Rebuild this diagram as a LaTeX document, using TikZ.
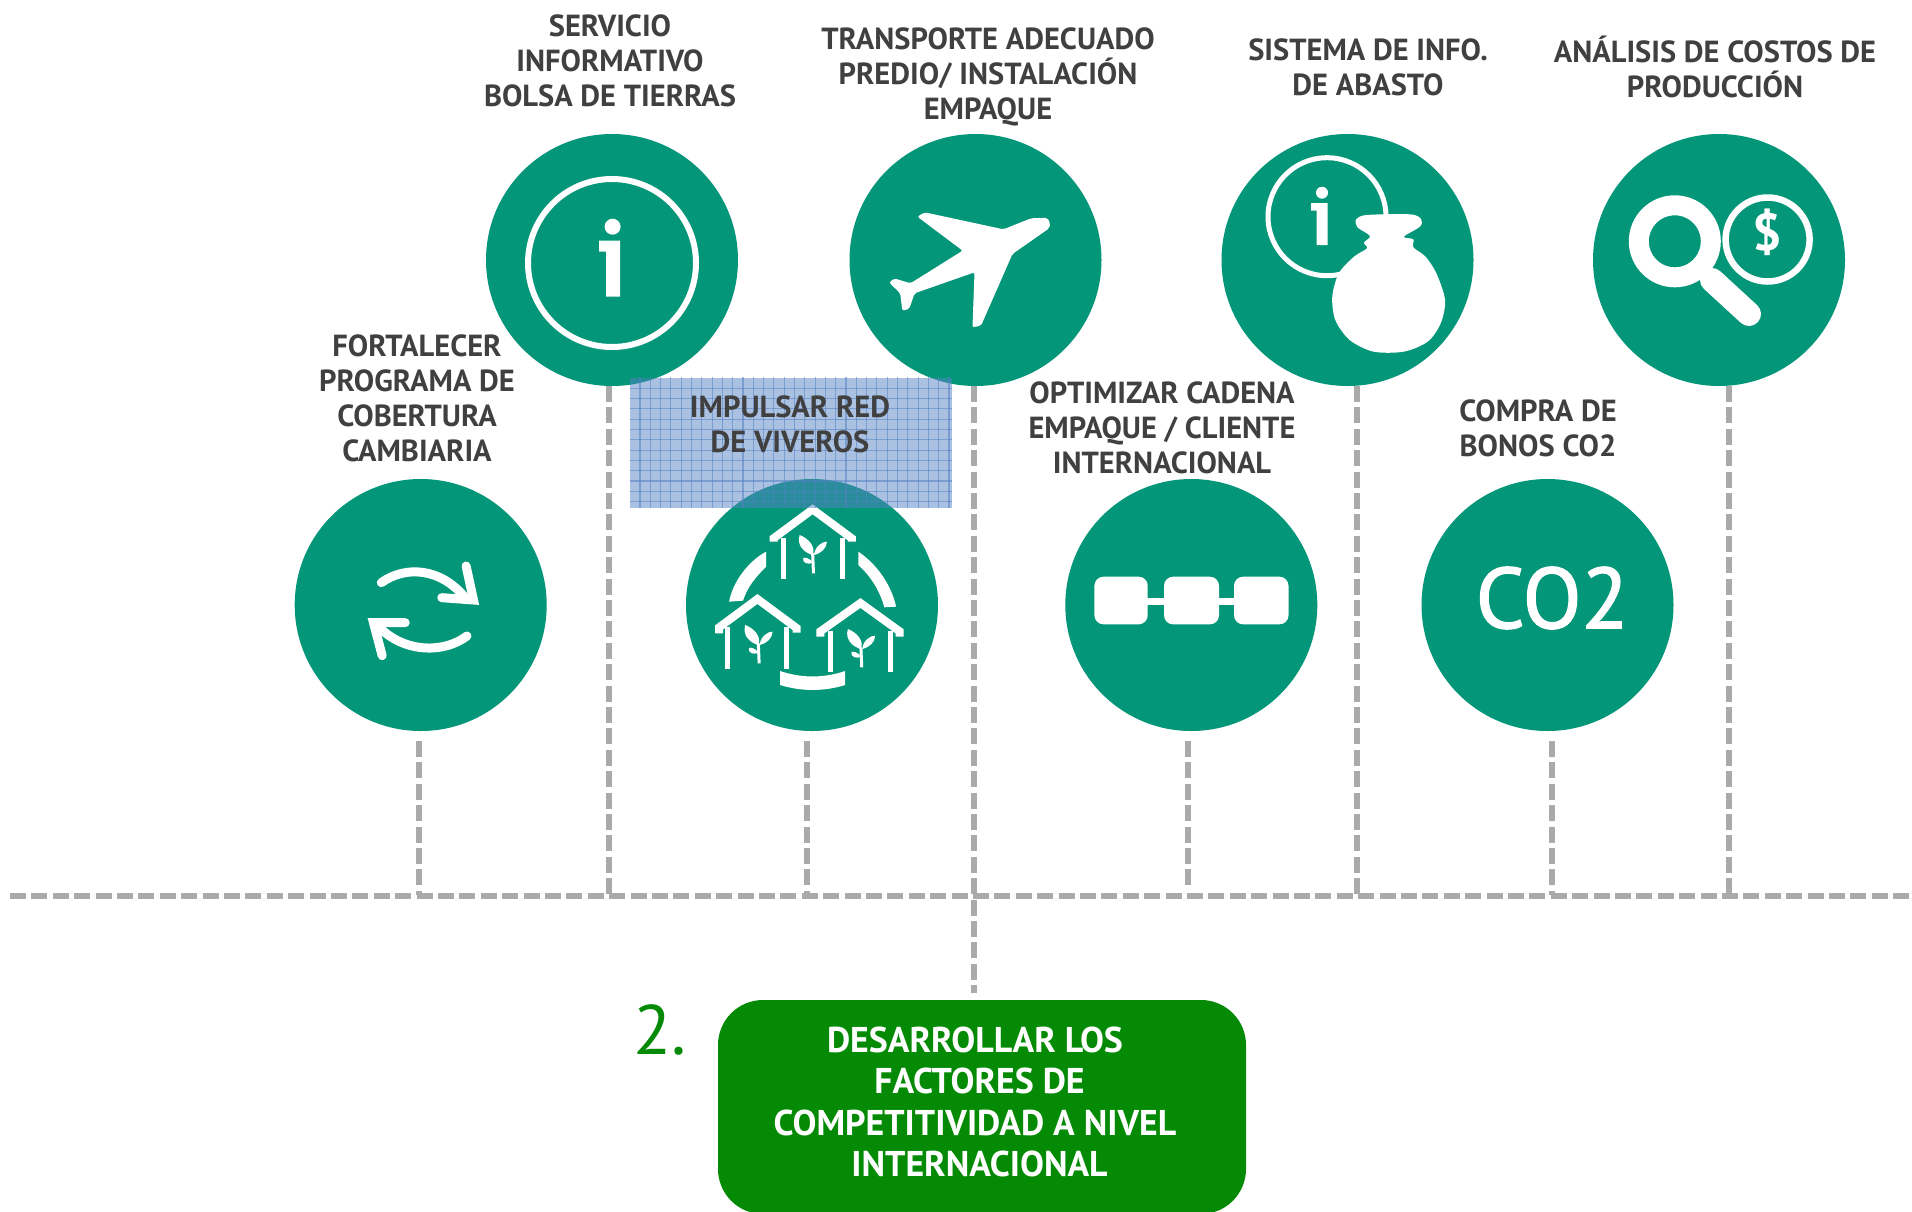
\documentclass[tikz,border=0pt]{standalone}
\usepackage{fontspec}
\setmainfont{PT Sans}
\newfontfamily\cofont[FakeBold=1.6]{PT Sans}
\definecolor{teal1}{RGB}{3,150,120}
\definecolor{gris}{RGB}{170,170,170}
\definecolor{txt}{RGB}{64,64,64}
\definecolor{verde}{RGB}{5,138,5}
\definecolor{azul}{RGB}{84,130,196}
\tikzset{
  disc/.style={circle,fill=teal1,draw=none,minimum size=252pt,inner sep=0pt},
  dashline/.style={draw=gris,line width=6pt,dash pattern=on 16pt off 5.4pt},
  lbl/.style={font=\bfseries\fontsize{30.5}{35}\selectfont,text=txt,align=center,inner sep=0pt},
  boxlbl/.style={font=\bfseries\fontsize{35.8}{41.6}\selectfont,text=white,align=center,inner sep=0pt},
  icon/.style={fill=white,draw=none},
  rooft/.style={draw=white,line width=8pt,line join=miter},
  wall/.style={draw=white,line width=5pt},
  arrowline/.style={draw=white,line width=9pt,line cap=round,line join=miter}
}
\newcommand{\plantshape}[2]{%
  \begin{scope}[shift={(#1,#2)}]
    \fill[white] (-30,-55) .. controls (-38,-20) and (-15,0) .. (0,5) .. controls (8,-20) and (-10,-45) .. (-30,-55) -- cycle;
    \fill[white] (33,-35) .. controls (22,-36) and (5,-20) .. (3,5) .. controls (20,0) and (32,-15) .. (33,-35) -- cycle;
    \draw[white,line width=3pt] (0,0) -- (2,60);
    \fill[white] (-22,15) .. controls (-20,10) and (-5,15) .. (0,28) .. controls (-8,35) and (-24,30) .. (-22,15) -- cycle;
  \end{scope}}
\begin{document}
\begin{tikzpicture}[x=1pt,y=-1pt]
\useasboundingbox (0,0) rectangle (1912,1211);
\clip (0,0) rectangle (1912,1211);
\fill[white] (0,0) rectangle (1912,1211);

% connector ends
\coordinate (h0) at (10,895.5);
\coordinate (h1) at (1912,895.5);
\coordinate (a1) at (418.5,741);  \coordinate (b1) at (418.5,895);
\coordinate (a2) at (608.5,386);  \coordinate (b2) at (608.5,895);
\coordinate (a3) at (807,741);    \coordinate (b3) at (807,895);
\coordinate (a4) at (973.5,386);  \coordinate (b4) at (973.5,993);
\coordinate (a5) at (1188,741);   \coordinate (b5) at (1188,885);
\coordinate (a6) at (1357,386);   \coordinate (b6) at (1357,895);
\coordinate (a7) at (1552,741);   \coordinate (b7) at (1552,895);
\coordinate (a8) at (1729,386);   \coordinate (b8) at (1729,895);
\draw[dashline] (h0) -- (h1);
\foreach \i in {1,...,8} \draw[dashline] (a\i) -- (b\i);

% discs
\node[disc] (c1) at (612,260) {};
\node[disc] (c2) at (975.5,260) {};
\node[disc] (c3) at (1347.5,260) {};
\node[disc] (c4) at (1719,260) {};
\node[disc] (d1) at (420.7,605) {};
\node[disc] (d2) at (812,605) {};
\node[disc] (d3) at (1191.3,605) {};
\node[disc] (d4) at (1547.5,605) {};

% info icon
\draw[white,line width=6pt] (612,263) circle (84);
\fill[white] (612.6,226.7) circle (8);
\fill[white] (606,240.7) -- (620,240.7) -- (620,296.7) -- (606,296.7) -- (606,251.7) -- (599,251.7) -- (599,240.7) -- cycle;

% plane
\begin{scope}[shift={(480,120)},x=0.408pt,y=-0.3333pt]
\fill[white,rounded corners=2pt] (1398,310) -- (1390,293) -- (1350,295) -- (1283,328) -- (1090,277) -- (1072,290) -- (1183,392) -- (1055,490) -- (1015,475) -- (1003,488) -- (1030,520) -- (1035,572) -- (1052,567) -- (1065,520) -- (1212,457) -- (1207,622) -- (1228,617) -- (1305,402) -- (1395,325) -- cycle;
\end{scope}

% info + bag
\draw[white,line width=5pt] (1327,216.7) circle (59);
\fill[white] (1322,192.7) circle (6);
\fill[white] (1316.6,203) -- (1327.5,203) -- (1327.5,245) -- (1316.6,245) -- (1316.6,210.5) -- (1311,210.5) -- (1311,203) -- cycle;
\begin{scope}[shift={(1200,120)},x=0.4337pt,y=-0.3333pt]
\fill[white] plot[smooth cycle,tension=0.5] coordinates {(360,298) (385,285) (485,283) (510,298) (507,320) (470,350) (492,358) (492,382) (520,410) (545,460) (565,540) (555,610) (525,665) (470,695) (400,695) (345,660) (312,600) (305,530) (320,460) (355,410) (385,385) (378,368) (392,348) (363,322)};
\end{scope}

% magnifier + coin
\draw[white,line width=20pt] (1674.8,241.3) circle (36);
\draw[white,line width=24pt,line cap=round] (1712,280) -- (1749,314);
\draw[white,line width=6.5pt] (1767.6,239.5) circle (42);
\node[font=\bfseries\fontsize{52}{52}\selectfont,text=white,inner sep=0pt] (coin) at (1767.6,232) {\$};

% cycle arrows
\begin{scope}[shift={(280,470)},x=0.4348pt,y=-0.3333pt]
\draw[arrowline] (233,338) .. controls (290,285) and (370,295) .. (425,382);
\draw[arrowline] (428,288) -- (445,390) -- (372,383);
\draw[arrowline] (430,498) .. controls (380,548) and (290,552) .. (228,472);
\draw[arrowline] (288,458) -- (215,458) -- (235,557);
\end{scope}

% houses
\begin{scope}[shift={(280,470)},x=0.4348pt,y=-0.3333pt]
\draw[rooft] (1135,215) -- (1135,205) -- (1225,118) -- (1315,205) -- (1315,215);
\draw[wall] (1157,205) -- (1157,327);
\draw[wall] (1293,205) -- (1293,327);
\plantshape{1225}{250}
\draw[rooft] (1010,490) -- (1010,472) -- (1098,387) -- (1188,474) -- (1188,488);
\draw[wall] (1030,470) -- (1030,596);
\draw[wall] (1166,470) -- (1166,596);
\plantshape{1100}{520}
\draw[rooft] (1243,500) -- (1243,484) -- (1335,399) -- (1425,484) -- (1425,500);
\draw[wall] (1265,484) -- (1265,605);
\draw[wall] (1405,484) -- (1405,605);
\plantshape{1336}{532}
\fill[white] (1118,245) -- (1118,290) .. controls (1095,320) and (1075,350) .. (1065,392) -- (1033,395) .. controls (1040,340) and (1075,275) .. (1118,245) -- cycle;
\fill[white] (1330,245) -- (1330,285) .. controls (1360,320) and (1380,365) .. (1390,412) -- (1417,410) .. controls (1405,340) and (1370,280) .. (1330,245) -- cycle;
\fill[white] (1150,603) .. controls (1200,625) and (1250,625) .. (1300,603) -- (1300,645) .. controls (1250,665) and (1200,665) .. (1150,645) -- cycle;
\end{scope}

% chain
\fill[white,rounded corners=9pt] (1094.4,576.7) rectangle (1147.7,624.3);
\fill[white,rounded corners=9pt] (1164,576.7) rectangle (1219,624.3);
\fill[white,rounded corners=9pt] (1234,576.7) rectangle (1288.5,624.3);
\fill[white] (1147,597.7) rectangle (1235,605);

% CO2
\node[font=\cofont\fontsize{86}{86}\selectfont,text=white,inner sep=0pt] (co2) at (1552,598) {CO2};

% patterned blue box
\begin{scope}
\clip (630,377.7) rectangle (952,507.7);
\fill[azul,fill opacity=0.49] (630,377.7) rectangle (952,507.7);
\foreach \k in {0,...,31} \draw[azul,line width=1.1pt,opacity=0.55] ({640+10.3*\k},377) -- ({640+10.3*\k},508);
\foreach \k in {0,...,12} \draw[azul,line width=1.1pt,opacity=0.55] (630,{388.3+10.3*\k}) -- (952,{388.3+10.3*\k});
\end{scope}

% labels
\node[lbl] (t1) at (610,60.5) {SERVICIO\\INFORMATIVO\\BOLSA DE TIERRAS};
\node[lbl] (t2) at (988,76.5) {TRANSPORTE ADECUADO\\PREDIO/ INSTALACIÓN\\EMPAQUE};
\node[lbl] (t3) at (1368,67) {SISTEMA DE INFO.\\DE ABASTO};
\node[lbl] (t4) at (1715,67) {ANÁLISIS DE COSTOS DE\\PRODUCCIÓN};
\node[lbl] (t5) at (417,398.5) {FORTALECER\\PROGRAMA DE\\COBERTURA\\CAMBIARIA};
\node[lbl] (t6) at (790,424.5) {IMPULSAR RED\\DE VIVEROS};
\node[lbl] (t7) at (1162,427.5) {OPTIMIZAR CADENA\\EMPAQUE / CLIENTE\\INTERNACIONAL};
\node[lbl] (t8) at (1538,428.5) {COMPRA DE\\BONOS CO2};

% main box
\node[fill=verde,rounded corners=45pt,minimum width=528pt,minimum height=214pt,inner sep=0pt] (mainbox) at (982,1107) {};
\node[boxlbl] (mainlbl) at (975,1102) {DESARROLLAR LOS\\ \ FACTORES DE\\COMPETITIVIDAD A NIVEL\\ \ INTERNACIONAL};
\node[font=\fontsize{70}{70}\selectfont,text=verde,inner sep=0pt] (num) at (660,1030) {2.};
\end{tikzpicture}
\end{document}
